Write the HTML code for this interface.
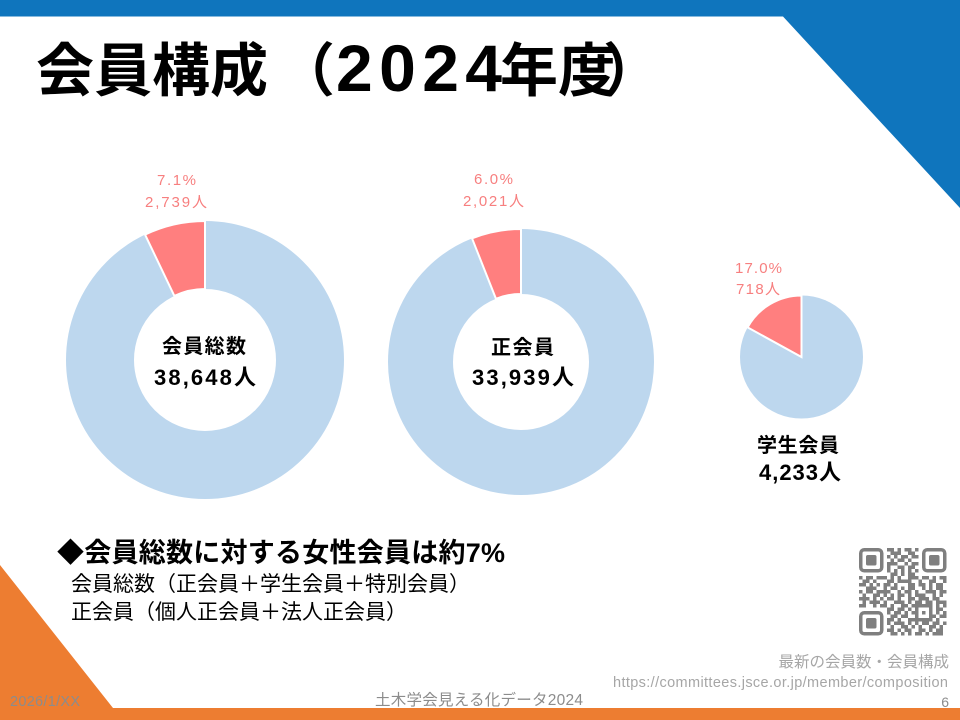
<!DOCTYPE html>
<html>
<head>
<meta charset="utf-8">
<style>
  html,body{margin:0;padding:0;background:#fff;}
  svg{display:block;}
  text{font-family:"Liberation Sans","Noto Sans CJK JP",sans-serif;}
</style>
</head>
<body>
<svg width="960" height="720" viewBox="0 0 960 720" xmlns="http://www.w3.org/2000/svg">
  <rect x="0" y="0" width="960" height="720" fill="#ffffff"/>
  <!-- top blue band -->
  <polygon points="0,0 960,0 960,208 783,16.5 0,16.5" fill="#0F75BD"/>
  <!-- bottom orange band -->
  <polygon points="0,565 113,708 960,708 960,720 0,720" fill="#ED7D31"/>

  <!-- title -->
  <text y="91" font-size="58" font-weight="bold" fill="#000">
    <tspan x="36">会員構成</tspan>
  </text>
  <text x="277" y="91" font-size="58" font-weight="bold" fill="#000">（</text>
  <text x="336" y="91" font-size="66" font-weight="bold" fill="#000" textLength="166">2024</text>
  <text x="500" y="91" font-size="58" font-weight="bold" fill="#000">年度</text>
  <text x="603" y="91" font-size="58" font-weight="bold" fill="#000">）</text>

  <!-- donut 1 -->
  <circle cx="205" cy="360" r="105" fill="none" stroke="#BDD7EE" stroke-width="68"/>
  <path d="M205 221 A139 139 0 0 0 145.03 234.6 L174.37 295.95 A71 71 0 0 1 205 289 Z" fill="#FF7F7F" stroke="#ffffff" stroke-width="2" stroke-linejoin="miter"/>
  <text x="162" y="353" font-size="20" font-weight="bold" fill="#000" textLength="84">会員総数</text>
  <text x="154" y="385" font-size="22" font-weight="bold" fill="#000" textLength="102">38,648人</text>
  <text x="157" y="185" font-size="15" fill="#F77F7F" textLength="39">7.1%</text>
  <text x="145" y="207" font-size="15" fill="#F77F7F" textLength="62">2,739人</text>

  <!-- donut 2 -->
  <circle cx="521" cy="362" r="100.5" fill="none" stroke="#BDD7EE" stroke-width="65"/>
  <path d="M521 229 A133 133 0 0 0 472.04 238.34 L495.97 298.77 A68 68 0 0 1 521 294 Z" fill="#FF7F7F" stroke="#ffffff" stroke-width="2"/>
  <text x="491" y="354" font-size="20" font-weight="bold" fill="#000" textLength="63">正会員</text>
  <text x="472" y="385" font-size="22" font-weight="bold" fill="#000" textLength="102">33,939人</text>
  <text x="474" y="184" font-size="15" fill="#F77F7F" textLength="39">6.0%</text>
  <text x="463" y="206" font-size="15" fill="#F77F7F" textLength="61">2,021人</text>

  <!-- pie 3 -->
  <circle cx="801.5" cy="357" r="61.5" fill="#BDD7EE"/>
  <path d="M801.5 357 L801.5 295.5 A61.5 61.5 0 0 0 747.6 327.4 Z" fill="#FF7F7F" stroke="#ffffff" stroke-width="2"/>
  <text x="757" y="452" font-size="20" font-weight="bold" fill="#000" textLength="82">学生会員</text>
  <text x="759" y="480" font-size="22" font-weight="bold" fill="#000" textLength="82">4,233人</text>
  <text x="735" y="273" font-size="15" fill="#F77F7F" textLength="47">17.0%</text>
  <text x="736" y="294" font-size="15" fill="#F77F7F" textLength="44">718人</text>

  <!-- bullet text -->
  <text x="57" y="562" font-size="27" font-weight="bold" fill="#000" textLength="448">◆会員総数に対する女性会員は約7%</text>
  <text x="71" y="591" font-size="21" fill="#000">会員総数（正会員＋学生会員＋特別会員）</text>
  <text x="71" y="619" font-size="21" fill="#000">正会員（個人正会員＋法人正会員）</text>

  <!-- QR code -->
  <g transform="translate(859,548) scale(3.5)" fill="none" stroke="#7F7F7F">
    <rect x="0.5" y="0.5" width="6" height="6" rx="1" stroke-width="1"/>
    <rect x="2" y="2" width="3" height="3" rx="0.5" fill="#7F7F7F" stroke="none"/>
    <rect x="18.5" y="0.5" width="6" height="6" rx="1" stroke-width="1"/>
    <rect x="20" y="2" width="3" height="3" rx="0.5" fill="#7F7F7F" stroke="none"/>
    <rect x="0.5" y="18.5" width="6" height="6" rx="1" stroke-width="1"/>
    <rect x="2" y="20" width="3" height="3" rx="0.5" fill="#7F7F7F" stroke="none"/>
    <rect x="16.5" y="16.5" width="4" height="4" stroke-width="1"/>
    <rect x="18" y="18" width="1" height="1" fill="#7F7F7F" stroke="none"/>
    <path stroke-width="1" d="M8 .5h2M11 .5h1M13 .5h2M16 .5h1
M9 1.5h3M14 1.5h2
M8 2.5h1M10 2.5h1M12 2.5h2M15 2.5h2
M9 3.5h1M11 3.5h2M14 3.5h1
M8 4.5h3M13 4.5h1M15 4.5h2
M8 5.5h1M11 5.5h2M14 5.5h2
M8 6.5h1M10 6.5h1M12 6.5h1M14 6.5h1M16 6.5h1
M9 7.5h2M12 7.5h1M14 7.5h2
M0 8.5h1M2 8.5h2M5 8.5h3M9 8.5h1M11 8.5h1M14 8.5h3M18 8.5h2M21 8.5h1M23 8.5h2
M1 9.5h2M4 9.5h1M8 9.5h2M11 9.5h4M17 9.5h1M20 9.5h2M24 9.5h1
M0 10.5h2M3 10.5h1M5 10.5h1M7 10.5h2M10 10.5h1M14 10.5h2M17 10.5h2M20 10.5h1M22 10.5h2
M2 11.5h3M7 11.5h1M9 11.5h2M12 11.5h1M14 11.5h2M18 11.5h1M20 11.5h1M22 11.5h2
M0 12.5h1M2 12.5h2M5 12.5h4M11 12.5h1M13 12.5h2M16 12.5h1M19 12.5h3M23 12.5h2
M1 13.5h1M4 13.5h2M7 13.5h1M9 13.5h1M11 13.5h2M14 13.5h1M16 13.5h3M21 13.5h1M23 13.5h1
M0 14.5h3M4 14.5h1M6 14.5h1M8 14.5h2M11 14.5h1M14 14.5h2M17 14.5h3M21 14.5h2
M1 15.5h1M3 15.5h3M7 15.5h1M10 15.5h3M14 15.5h1M16 15.5h2M19 15.5h2M22 15.5h3
M0 16.5h2M4 16.5h1M6 16.5h2M9 16.5h1M12 16.5h2M15 16.5h1M22 16.5h1M24 16.5h1
M8 17.5h2M11 17.5h2M14 17.5h1M22 17.5h2
M8 18.5h1M10 18.5h2M13 18.5h1M15 18.5h1M22 18.5h1M24 18.5h1
M9 19.5h2M12 19.5h2M21 19.5h1M23 19.5h2
M8 20.5h2M11 20.5h1M14 20.5h2M22 20.5h1
M8 21.5h1M10 21.5h3M14 21.5h1M16 21.5h1M18 21.5h2M21 21.5h2M24 21.5h1
M9 22.5h1M12 22.5h2M15 22.5h1M17 22.5h1M20 22.5h2M23 22.5h1
M8 23.5h2M11 23.5h1M13 23.5h2M17 23.5h2M20 23.5h1M22 23.5h2
M9 24.5h2M12 24.5h1M14 24.5h1M16 24.5h2M19 24.5h1M21 24.5h3"/>
  </g>

  <!-- link text -->
  <text x="949" y="667" font-size="15.5" fill="#A6A6A6" text-anchor="end">最新の会員数・会員構成</text>
  <text x="613" y="687" font-size="14.5" fill="#A6A6A6" textLength="335">https://committees.jsce.or.jp/member/composition</text>

  <!-- footer -->
  <text x="10" y="706" font-size="14.5" fill="#8C8C8C" textLength="70">2026/1/XX</text>
  <text x="375" y="705" font-size="15.5" fill="#8C8C8C" textLength="208">土木学会見える化データ2024</text>
  <text x="949" y="707" font-size="14" fill="#8C8C8C" text-anchor="end">6</text>
</svg>
</body>
</html>
